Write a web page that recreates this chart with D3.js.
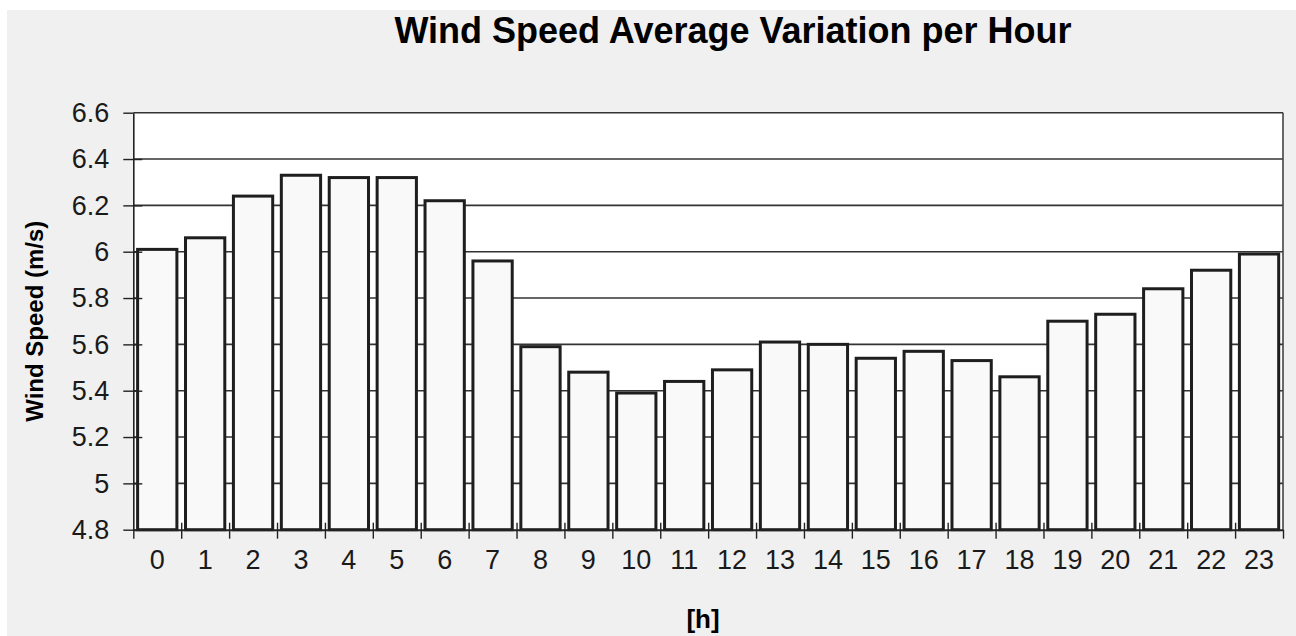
<!DOCTYPE html>
<html>
<head>
<meta charset="utf-8">
<script src="https://cdn.jsdelivr.net/npm/d3@7"></script>
<style>
  html, body { margin: 0; padding: 0; background: #fff; }
  svg { display: block; font-family: Arial, "Liberation Sans", sans-serif; }
</style>
</head>
<body>
<div id="chart"></div>
<script>
// data
const hours = ["0","1","2","3","4","5","6","7","8","9","10","11",
               "12","13","14","15","16","17","18","19","20","21","22","23"];
const speeds = [6.01, 6.06, 6.24, 6.33, 6.32, 6.32, 6.22, 5.96, 5.59, 5.48, 5.39, 5.44,
                5.49, 5.61, 5.60, 5.54, 5.57, 5.53, 5.46, 5.70, 5.73, 5.84, 5.92, 5.99];
const yTicks = [4.8, 5, 5.2, 5.4, 5.6, 5.8, 6, 6.2, 6.4, 6.6];

const W = 1296, H = 636;
const plotLeft = 133.3, plotRight = 1283, plotTop = 112.7, plotBottom = 529.7;

const svg = d3.select("#chart")
  .append("svg")
  .attr("width", W)
  .attr("height", H);

// grey chart area (white strip top and left like the screenshot)
svg.append("rect")
  .attr("x", 7).attr("y", 10)
  .attr("width", W - 7).attr("height", H - 10)
  .attr("fill", "#f0f0f0");

const x = d3.scaleBand()
  .domain(hours)
  .range([plotLeft, plotRight])
  .paddingInner(0.18)
  .paddingOuter(0.09);

const xEdges = d3.scaleLinear()
  .domain([0, hours.length])
  .range([plotLeft, plotRight]);

const y = d3.scaleLinear()
  .domain([4.8, 6.6])
  .range([plotBottom, plotTop]);

// plot area
svg.append("rect")
  .attr("x", plotLeft).attr("y", plotTop)
  .attr("width", plotRight - plotLeft).attr("height", plotBottom - plotTop)
  .attr("fill", "#fff");

// gridlines
svg.append("g")
  .selectAll("line")
  .data(yTicks.filter(d => d > 4.8))
  .enter()
  .append("line")
  .attr("x1", plotLeft).attr("x2", plotRight)
  .attr("y1", d => y(d)).attr("y2", d => y(d))
  .attr("stroke", "#333")
  .attr("stroke-width", 1.6);

// right border
svg.append("line")
  .attr("x1", plotRight).attr("x2", plotRight)
  .attr("y1", plotTop).attr("y2", plotBottom)
  .attr("stroke", "#444")
  .attr("stroke-width", 1.6);

// bars
svg.append("g")
  .selectAll("rect")
  .data(speeds)
  .enter()
  .append("rect")
  .attr("x", (d, i) => x(hours[i]))
  .attr("y", d => y(d))
  .attr("width", x.bandwidth())
  .attr("height", d => y(4.8) - y(d))
  .attr("fill", "#f9f9f9")
  .attr("stroke", "#1e1e1e")
  .attr("stroke-width", 3);

// y axis
const yAxis = svg.append("g")
  .attr("transform", `translate(${plotLeft},0)`)
  .call(d3.axisLeft(y)
    .tickValues(yTicks)
    .tickFormat(d => String(d))
    .tickSizeInner(10)
    .tickSizeOuter(0)
    .tickPadding(14));

yAxis.select(".domain").attr("stroke", "#222").attr("stroke-width", 1.6);
yAxis.selectAll(".tick line")
  .attr("x1", d => d === 6.6 ? 0 : 9)
  .attr("stroke", "#222")
  .attr("stroke-width", 1.4);
yAxis.selectAll(".tick text")
  .attr("fill", "#1a1a1a")
  .style("font-size", "27px");

// x axis: tick marks at the band edges
const xTickAxis = svg.append("g")
  .attr("transform", `translate(0,${plotBottom})`)
  .call(d3.axisBottom(xEdges)
    .tickValues(d3.range(hours.length + 1))
    .tickFormat("")
    .tickSizeInner(9)
    .tickSizeOuter(0));

xTickAxis.select(".domain").attr("stroke", "#222").attr("stroke-width", 2);
xTickAxis.selectAll(".tick line")
  .attr("y1", (d, i) => (i === 0 || i === hours.length) ? 0 : -7)
  .attr("stroke", "#222")
  .attr("stroke-width", 1.4);

// x axis labels
const xAxis = svg.append("g")
  .attr("transform", `translate(0,${plotBottom})`)
  .call(d3.axisBottom(x).tickSize(0).tickPadding(20));

xAxis.select(".domain").remove();
xAxis.selectAll(".tick text")
  .attr("fill", "#1a1a1a")
  .style("font-size", "27px");

// title
svg.append("text")
  .attr("x", 733)
  .attr("y", 43)
  .attr("text-anchor", "middle")
  .style("font-size", "36px")
  .style("font-weight", "bold")
  .text("Wind Speed Average Variation per Hour");

// axis titles
svg.append("text")
  .attr("transform", `translate(43,${(plotTop + plotBottom) / 2}) rotate(-90)`)
  .attr("text-anchor", "middle")
  .style("font-size", "24px")
  .style("font-weight", "bold")
  .text("Wind Speed (m/s)");

svg.append("text")
  .attr("x", 703)
  .attr("y", 628)
  .attr("text-anchor", "middle")
  .style("font-size", "26px")
  .style("font-weight", "bold")
  .text("[h]");
</script>
</body>
</html>
